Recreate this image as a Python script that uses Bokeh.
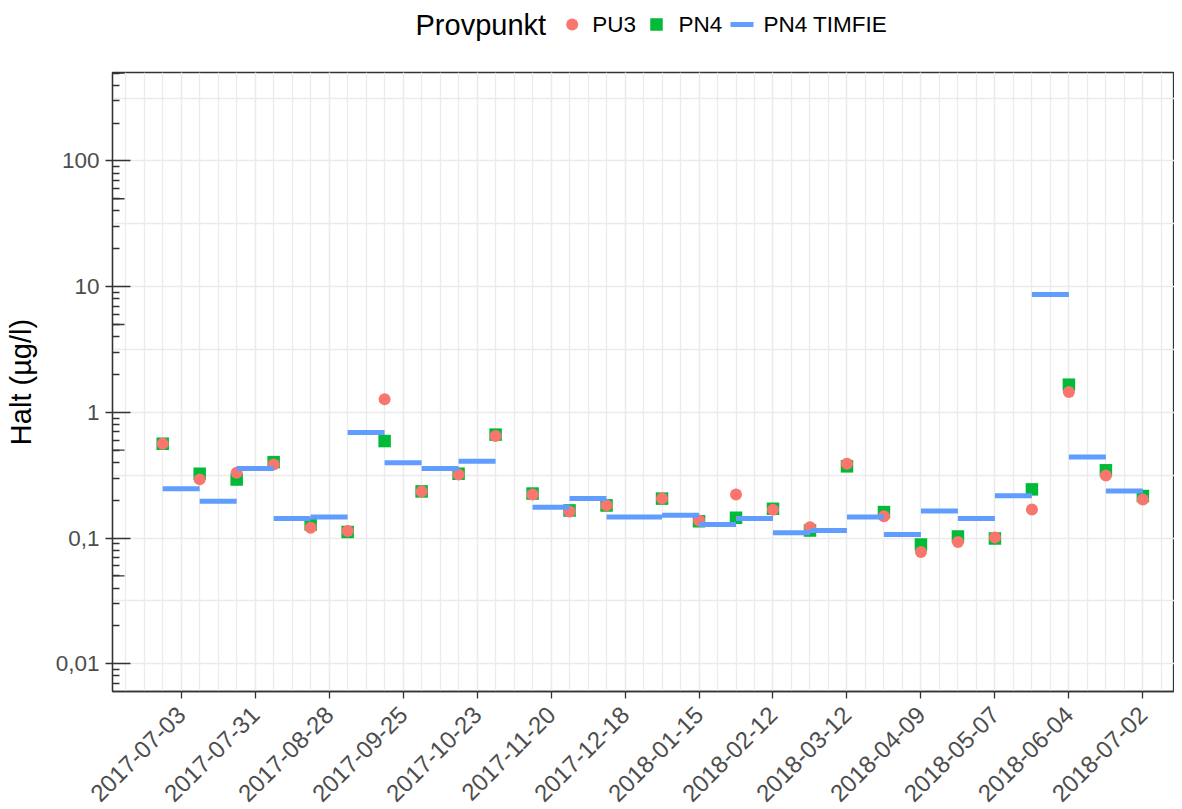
import pandas as pd
from bokeh.plotting import figure
from bokeh.layouts import column
from bokeh.models import (FixedTicker, Range1d, Grid, DatetimeTickFormatter,
                          ColumnDataSource)
from bokeh.core.properties import value
from bokeh.embed import file_html
from bokeh.resources import INLINE
from math import pi

# ---------------- data ----------------
sample_dates = ["2017-06-26", "2017-07-10", "2017-07-24", "2017-08-07", "2017-08-21",
                "2017-09-04", "2017-09-18", "2017-10-02", "2017-10-16", "2017-10-30",
                "2017-11-13", "2017-11-27", "2017-12-11", "2018-01-01", "2018-01-15",
                "2018-01-29", "2018-02-12", "2018-02-26", "2018-03-12", "2018-03-26",
                "2018-04-09", "2018-04-23", "2018-05-07", "2018-05-21", "2018-06-04",
                "2018-06-18", "2018-07-02"]
pu3 = [0.563, 0.293, 0.331, 0.384, 0.121, 0.114, 1.27, 0.235, 0.32, 0.648,
       0.222, 0.163, 0.182, 0.206, 0.138, 0.222, 0.168, 0.122, 0.39, 0.149,
       0.0774, 0.093, 0.101, 0.169, 1.45, 0.315, 0.203]
pn4 = [0.563, 0.325, 0.293, 0.402, 0.128, 0.112, 0.591, 0.235, 0.325, 0.665,
       0.226, 0.166, 0.182, 0.206, 0.136, 0.145, 0.171, 0.115, 0.372, 0.161,
       0.089, 0.103, 0.099, 0.244, 1.66, 0.346, 0.216]

tim_start = ["2017-06-26", "2017-07-10", "2017-07-24", "2017-08-07", "2017-08-21",
             "2017-09-04", "2017-09-18", "2017-10-02", "2017-10-16", "2017-11-13",
             "2017-11-27", "2017-12-11", "2018-01-01", "2018-01-15", "2018-01-29",
             "2018-02-12", "2018-02-26", "2018-03-12", "2018-03-26", "2018-04-09",
             "2018-04-23", "2018-05-07", "2018-05-21", "2018-06-04", "2018-06-18"]
tim_end = ["2017-07-10", "2017-07-24", "2017-08-07", "2017-08-21", "2017-09-04",
           "2017-09-18", "2017-10-02", "2017-10-16", "2017-10-30", "2017-11-27",
           "2017-12-11", "2018-01-01", "2018-01-15", "2018-01-29", "2018-02-12",
           "2018-02-26", "2018-03-12", "2018-03-26", "2018-04-09", "2018-04-23",
           "2018-05-07", "2018-05-21", "2018-06-04", "2018-06-18", "2018-07-02"]
tim_val = [0.247, 0.196, 0.357, 0.143, 0.147, 0.69, 0.398, 0.357, 0.408, 0.176,
           0.206, 0.147, 0.152, 0.128, 0.143, 0.110, 0.115, 0.147, 0.107, 0.164,
           0.143, 0.217, 8.64, 0.441, 0.237]

y_major = [0.01, 0.1, 1, 10, 100]
y_labels = ["0,01", "0,1", "1", "10", "100"]
x_first_tick = "2017-07-03"
n_x_ticks = 14

legend_title = "Provpunkt"
series_names = ["PU3", "PN4", "PN4 TIMFIE"]
y_title = "Halt (µg/l)"

# ---------------- styling ----------------
FONT = "Liberation Sans"
C_PU3 = "#F8766D"
C_PN4 = "#00BA38"
C_TIM = "#619CFF"
GRID = "#EBEBEB"
DARK = "#333333"
TICKC = "#4D4D4D"
LEFT = 112
FRAME_W = 1062
TOTAL_W = LEFT + FRAME_W
TOP_H = 70

def ms(s):
    return pd.Timestamp(s).value / 1e6

t0 = pd.Timestamp(x_first_tick)
x_start = t0 - pd.Timedelta(days=26.0)
x_end = t0 + pd.Timedelta(days=375.97)

major_x = [ms(t0 + pd.Timedelta(days=28 * k)) for k in range(n_x_ticks)]
minor_x = [ms(t0 + pd.Timedelta(days=7 * k)) for k in range(-3, 54)]

minor_y = [m * 10.0 ** k for k in range(-3, 3) for m in range(2, 10)]
half_y = [10 ** (k + 0.5) for k in range(-3, 3)]
mid_y = [5 * 10.0 ** k for k in range(-2, 3)]

# ---------------- legend strip (ggplot-style top legend) ----------------
# the column aligns this strip's frame with the main plot's frame, so its x range
# is expressed in page pixels from LEFT to TOTAL_W
lg = figure(width=TOTAL_W, height=TOP_H, x_range=Range1d(LEFT, TOTAL_W),
            y_range=Range1d(0, TOP_H), x_axis_location=None, y_axis_location=None,
            output_backend="svg", toolbar_location=None, min_border=0,
            min_border_left=LEFT,
            outline_line_color=None, background_fill_color="white",
            border_fill_color="white")
lg.xgrid.visible = False
lg.ygrid.visible = False
ly = TOP_H - 24
lg.text(x=[415], y=[ly], text=[legend_title], text_font=value(FONT),
        text_font_size="29px", text_color="black", text_baseline="middle",
        text_align="left")
lg.scatter(x=[571.7], y=[ly], marker="circle", size=12, fill_color=C_PU3,
           line_color=None)
lg.scatter(x=[656], y=[ly], marker="square", size=12.5, fill_color=C_PN4,
           line_color=None)
lg.segment(x0=[730], y0=[ly], x1=[753], y1=[ly], line_color=C_TIM, line_width=5,
           line_cap="butt")
lg.text(x=[591.7, 678, 763], y=[ly] * 3, text=series_names, text_font=value(FONT),
        text_font_size="22.5px", text_color="black", text_baseline="middle",
        text_align="left")

# ---------------- main plot ----------------
p = figure(frame_width=FRAME_W, frame_height=619,
           x_axis_type="datetime", y_axis_type="log",
           x_range=Range1d(x_start, x_end), y_range=Range1d(0.00602, 505),
           output_backend="svg", toolbar_location=None,
           min_border_left=LEFT, min_border_top=2, min_border_right=0,
           min_border_bottom=10,
           background_fill_color="white", border_fill_color="white")

p.outline_line_color = DARK
p.outline_line_width = 1.3

xt = FixedTicker(ticks=major_x, minor_ticks=minor_x)
p.xaxis.ticker = xt
p.xgrid.ticker = xt
p.xgrid.grid_line_color = GRID
p.xgrid.grid_line_width = 1.3
p.xgrid.minor_grid_line_color = GRID
p.xgrid.minor_grid_line_width = 1.3

yt = FixedTicker(ticks=y_major, minor_ticks=minor_y)
p.yaxis.ticker = yt
p.ygrid.ticker = FixedTicker(ticks=y_major)
p.ygrid.grid_line_color = GRID
p.ygrid.grid_line_width = 1.3
p.add_layout(Grid(dimension=1, ticker=FixedTicker(ticks=half_y),
                  grid_line_color=GRID, grid_line_width=1.3))

p.xaxis.formatter = DatetimeTickFormatter(
    milliseconds="%Y-%m-%d", seconds="%Y-%m-%d", minsec="%Y-%m-%d",
    minutes="%Y-%m-%d", hourmin="%Y-%m-%d", hours="%Y-%m-%d",
    days="%Y-%m-%d", months="%Y-%m-%d", years="%Y-%m-%d")
p.xaxis.major_label_orientation = pi / 4
p.xaxis.major_label_text_font = FONT
p.xaxis.major_label_text_font_size = "24px"
p.xaxis.major_label_text_color = TICKC
p.xaxis.major_label_standoff = 12
p.xaxis.major_tick_in = 0
p.xaxis.major_tick_out = 7
p.xaxis.major_tick_line_color = DARK
p.xaxis.major_tick_line_width = 1.3
p.xaxis.minor_tick_line_color = None
p.xaxis.axis_line_color = DARK
p.xaxis.axis_line_width = 1.3

p.yaxis.major_label_overrides = {v: l for v, l in zip(y_major, y_labels)}
p.yaxis.major_label_text_font = FONT
p.yaxis.major_label_text_font_size = "22.5px"
p.yaxis.major_label_text_color = TICKC
p.yaxis.major_label_standoff = 6
p.yaxis.major_tick_in = 18
p.yaxis.major_tick_out = 7
p.yaxis.major_tick_line_color = DARK
p.yaxis.major_tick_line_width = 1.3
p.yaxis.minor_tick_in = 7
p.yaxis.minor_tick_out = 0
p.yaxis.minor_tick_line_color = DARK
p.yaxis.minor_tick_line_width = 1.3
p.yaxis.axis_line_color = DARK
p.yaxis.axis_line_width = 1.3
p.yaxis.axis_label = y_title
p.yaxis.axis_label_text_font = FONT
p.yaxis.axis_label_text_font_size = "29px"
p.yaxis.axis_label_text_font_style = "normal"
p.yaxis.axis_label_text_color = "black"
p.yaxis.axis_label_standoff = 16

# mid-length log ticks at 5 x 10^k, drawn inside the panel
p.ray(x=[x_start] * len(mid_y), y=mid_y, length=12, length_units="screen",
      angle=0, line_color=DARK, line_width=1.3)

dates = pd.to_datetime(sample_dates)
src = ColumnDataSource(dict(d=dates, pu3=pu3, pn4=pn4))
p.scatter(x="d", y="pn4", source=src, marker="square", size=12.5,
          fill_color=C_PN4, line_color=None)
p.scatter(x="d", y="pu3", source=src, marker="circle", size=12,
          fill_color=C_PU3, line_color=None)
tsrc = ColumnDataSource(dict(x0=pd.to_datetime(tim_start), x1=pd.to_datetime(tim_end),
                             v=tim_val))
p.segment(x0="x0", y0="v", x1="x1", y1="v", source=tsrc,
          line_color=C_TIM, line_width=5, line_cap="butt")

layout = column(lg, p, spacing=0)
open("out.html", "w").write(file_html(layout, INLINE))
